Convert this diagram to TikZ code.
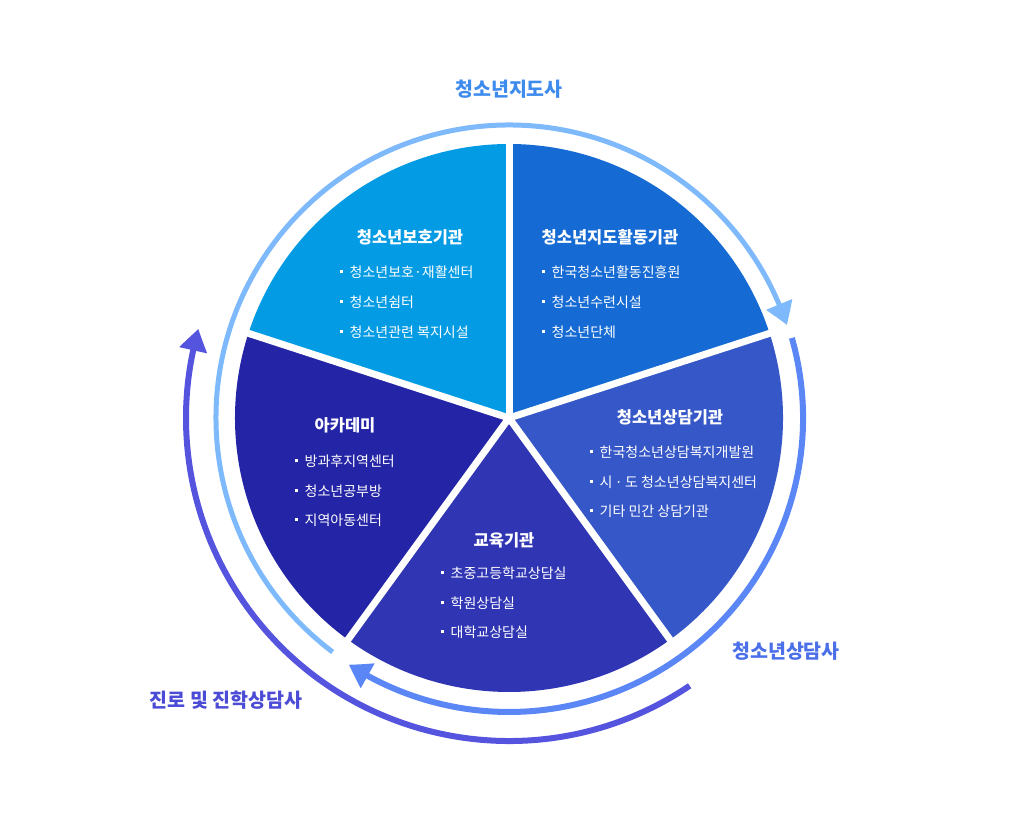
\documentclass[tikz,border=0pt]{standalone}
\usepackage{fontspec}
\setmainfont{Noto Sans CJK KR}
\usetikzlibrary{arrows.meta,bending}
\definecolor{cA}{HTML}{039BE3}
\definecolor{cB}{HTML}{156BD3}
\definecolor{cC}{HTML}{3657C7}
\definecolor{cD}{HTML}{3035B3}
\definecolor{cE}{HTML}{2424A6}
\definecolor{arcL}{HTML}{7DB9FB}
\definecolor{arcM}{HTML}{5A86F6}
\definecolor{arcP}{HTML}{5454DE}
\definecolor{labL}{HTML}{3E8BEE}
\definecolor{labM}{HTML}{4A6FE8}
\definecolor{labP}{HTML}{4B4BD6}
\newcommand{\bul}{\raisebox{0.28em}{\rule{3pt}{3pt}}\hspace{7pt}}
\tikzset{
  ttl/.style={text=white,font=\fontsize{16.5}{18}\selectfont\bfseries,inner sep=0pt},
  itm/.style={text=white,font=\fontsize{14}{16}\selectfont,inner sep=0pt,anchor=west},
  olab/.style={font=\fontsize{19.5}{21}\selectfont\bfseries,inner sep=0pt},
  gap/.style={white,line width=7pt},
  arr/.style={-{Triangle[length=22pt,width=27pt,bend]}}
}
\begin{document}
\begin{tikzpicture}[x=1pt,y=1pt]
\useasboundingbox (0,0) rectangle (1018,840);
\coordinate (C) at (509,422);
% slices
\fill[cA] (C) -- ++(90:274) arc (90:162:274) -- cycle;
\fill[cB] (C) -- ++(18:274) arc (18:90:274) -- cycle;
\fill[cC] (C) -- ++(-54:274) arc (-54:18:274) -- cycle;
\fill[cD] (C) -- ++(-126:274) arc (-126:-54:274) -- cycle;
\fill[cE] (C) -- ++(162:274) arc (162:234:274) -- cycle;
\foreach \a in {90,18,-54,-126,162}{\draw[gap] (C) -- ++(\a:282);}
% arcs
\draw[arcL,line width=5pt,arr] (C) ++(233:293) arc (233:18.5:293);
\draw[arcM,line width=6pt,arr] (C) ++(15.8:294) arc (15.8:-123:294);
\draw[arcP,line width=6pt,arr] (C) ++(-56:323) arc (-56:-196:323);
% outer labels
\node[olab,text=labL] (lab1) at (509,751) {청소년지도사};
\node[olab,text=labM] (lab2) at (786,189) {청소년상담사};
\node[olab,text=labP] (lab3) at (226,140) {진로 및 진학상담사};
% slice A
\node[ttl] (tA) at (410,603) {청소년보호기관};
\node[itm] (a1) at (339.5,568) {\bul 청소년보호·재활센터};
\node[itm] (a2) at (339.5,538) {\bul 청소년쉼터};
\node[itm] (a3) at (339.5,508) {\bul 청소년관련 복지시설};
% slice B
\node[ttl] (tB) at (610,603) {청소년지도활동기관};
\node[itm] (b1) at (541.5,568) {\bul 한국청소년활동진흥원};
\node[itm] (b2) at (541.5,538) {\bul 청소년수련시설};
\node[itm] (b3) at (541.5,508) {\bul 청소년단체};
% slice C
\node[ttl] (tC) at (670,423) {청소년상담기관};
\node[itm] (c1) at (589.5,388) {\bul 한국청소년상담복지개발원};
\node[itm] (c2) at (589.5,358) {\bul 시\,·\,도 청소년상담복지센터};
\node[itm] (c3) at (589.5,329) {\bul 기타 민간 상담기관};
% slice E (academy)
\node[ttl] (tE) at (345,415) {아카데미};
\node[itm] (e1) at (294.5,379) {\bul 방과후지역센터};
\node[itm] (e2) at (294.5,349) {\bul 청소년공부방};
\node[itm] (e3) at (294.5,320) {\bul 지역아동센터};
% slice D (education)
\node[ttl] (tD) at (504,300) {교육기관};
\node[itm] (d1) at (440.5,267) {\bul 초중고등학교상담실};
\node[itm] (d2) at (440.5,237) {\bul 학원상담실};
\node[itm] (d3) at (440.5,208) {\bul 대학교상담실};
\end{tikzpicture}
\end{document}
